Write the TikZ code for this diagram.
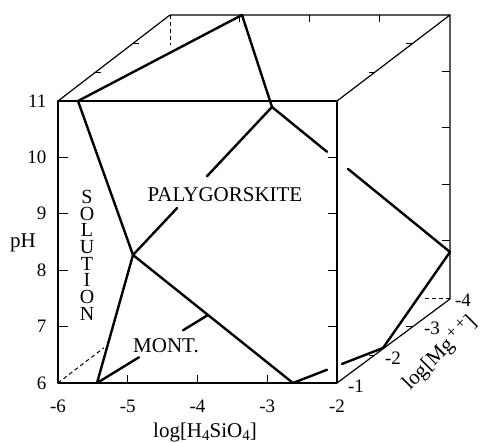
\documentclass[tikz,border=0pt]{standalone}
\usepackage{fontspec}
\setmainfont{Liberation Serif}
\usetikzlibrary{calc}
\begin{document}
\begin{tikzpicture}[x=1pt,y=-1pt,
  edge/.style={line width=1.2pt, line cap=round, line join=round},
  hid/.style={line width=1pt, dash pattern=on 4pt off 3pt},
  bnd/.style={line width=2.4pt, line cap=round, line join=round},
  tickmark/.style={line width=1pt},
  num/.style={font=\fontsize{19}{19}\selectfont, inner sep=0pt},
  lab/.style={font=\fontsize{21}{21}\selectfont, inner sep=0pt}]
\useasboundingbox (0,0) rectangle (488,443);
% cube corners
\coordinate (f1) at (58,101);
\coordinate (f2) at (337,101);
\coordinate (f3) at (337,383);
\coordinate (f4) at (58,383);
\coordinate (b1) at (170,15);
\coordinate (b2) at (450,15);
\coordinate (b3) at (450,299);
\coordinate (b4) at (170,297);
\draw[edge] (f1) -- (f2) -- (f3) -- (f4) -- cycle;
\draw[edge] (f1) -- (b1) -- (b2) -- (f2);
\draw[edge] (b2) -- (b3) -- (f3);
\draw[hid] (b1) -- ++(0,30);
\draw[hid] (b3) -- ++(-28,0);
\draw[hid] (f4) -- ($(f4)!0.41!(b4)$);
% ticks
\foreach \y in {157.4,213.8,270.2,326.6} {
  \draw[tickmark] (58,\y) -- ++(10,0);
  \draw[tickmark] (337,\y) -- ++(-9,0);
  \draw[tickmark] (450,\y-86) -- ++(-8,0);
}
\foreach \x in {127.75,197.5,267.25} {
  \draw[tickmark] (\x,383) -- ++(0,-8);
  \draw[tickmark] (\x+112,15) -- ++(0,7);
}
\foreach \t in {0.3333,0.6667} {
  \draw[tickmark] ($(f1)!\t!(b1)$) -- ++(6,0);
  \draw[tickmark] ($(f2)!\t!(b2)$) -- ++(-6,0);
  \draw[tickmark] ($(f3)!\t!(b3)$) -- ++(-6,0);
}
% phase boundaries
\coordinate (A) at (78,101);
\coordinate (B) at (242,15);
\coordinate (C) at (272,107);
\coordinate (D) at (133,255);
\coordinate (E) at (97,383);
\coordinate (F) at (293,383);
\coordinate (G) at (450,252);
\coordinate (H) at (383,348);
\coordinate (I) at (208,315);
\draw[bnd] (B) -- (A) -- (D);
\draw[bnd] (B) -- (C);
\draw[bnd] (C) -- ($(C)!0.468!(D)$);
\draw[bnd] ($(C)!0.683!(D)$) -- (D);
\draw[bnd] (C) -- ($(C)!0.309!(G)$);
\draw[bnd] ($(C)!0.427!(G)$) -- (G) -- (H) -- ($(H)!0.456!(F)$);
\draw[bnd] ($(H)!0.622!(F)$) -- (F);
\draw[bnd] (D) -- (F);
\draw[bnd] (D) -- (E);
\draw[bnd] (E) -- ($(E)!0.378!(I)$);
\draw[bnd] ($(E)!0.775!(I)$) -- (I);
% pH numbers
\node[num, anchor=east] (p11) at (46.5,101) {11};
\node[num, anchor=east] (p10) at (46.5,157.4) {10};
\node[num, anchor=east] (p9) at (46.5,213.8) {9};
\node[num, anchor=east] (p8) at (46.5,270.2) {8};
\node[num, anchor=east] (p7) at (46.5,326.6) {7};
\node[num, anchor=east] (p6) at (46.5,383) {6};
\node[lab] (ph) at (23,243) {pH};
% silica numbers
\node[num] (s6) at (58,406) {-6};
\node[num] (s5) at (127.75,406) {-5};
\node[num] (s4) at (197.5,406) {-4};
\node[num] (s3) at (267.25,406) {-3};
\node[num] (s2) at (337,406) {-2};
\node[lab] (silab) at (205,432) {log[H\raisebox{-0.35ex}{\fontsize{15}{15}\selectfont 4}SiO\raisebox{-0.35ex}{\fontsize{15}{15}\selectfont 4}]};
% Mg numbers
\node[num] (m1) at (356,386) {-1};
\node[num] (m2) at (393,358) {-2};
\node[num] (m3) at (432,328) {-3};
\node[num] (m4) at (463,300) {-4};
\node[lab, anchor=base west, rotate=45] (mglab) at (410,391) {log[Mg\raisebox{0.7ex}{\fontsize{17}{17}\selectfont\,+\,+}]};
% field labels
\node[lab] (paly) at (225,195) {PALYGORSKITE};
\node[lab] (mont) at (166,346) {MONT.};
\node[font=\fontsize{20}{16.7}\selectfont, inner sep=0pt, align=center, anchor=north] (sol) at (87,190) {S\\O\\L\\U\\T\\I\\O\\N};
\end{tikzpicture}
\end{document}
